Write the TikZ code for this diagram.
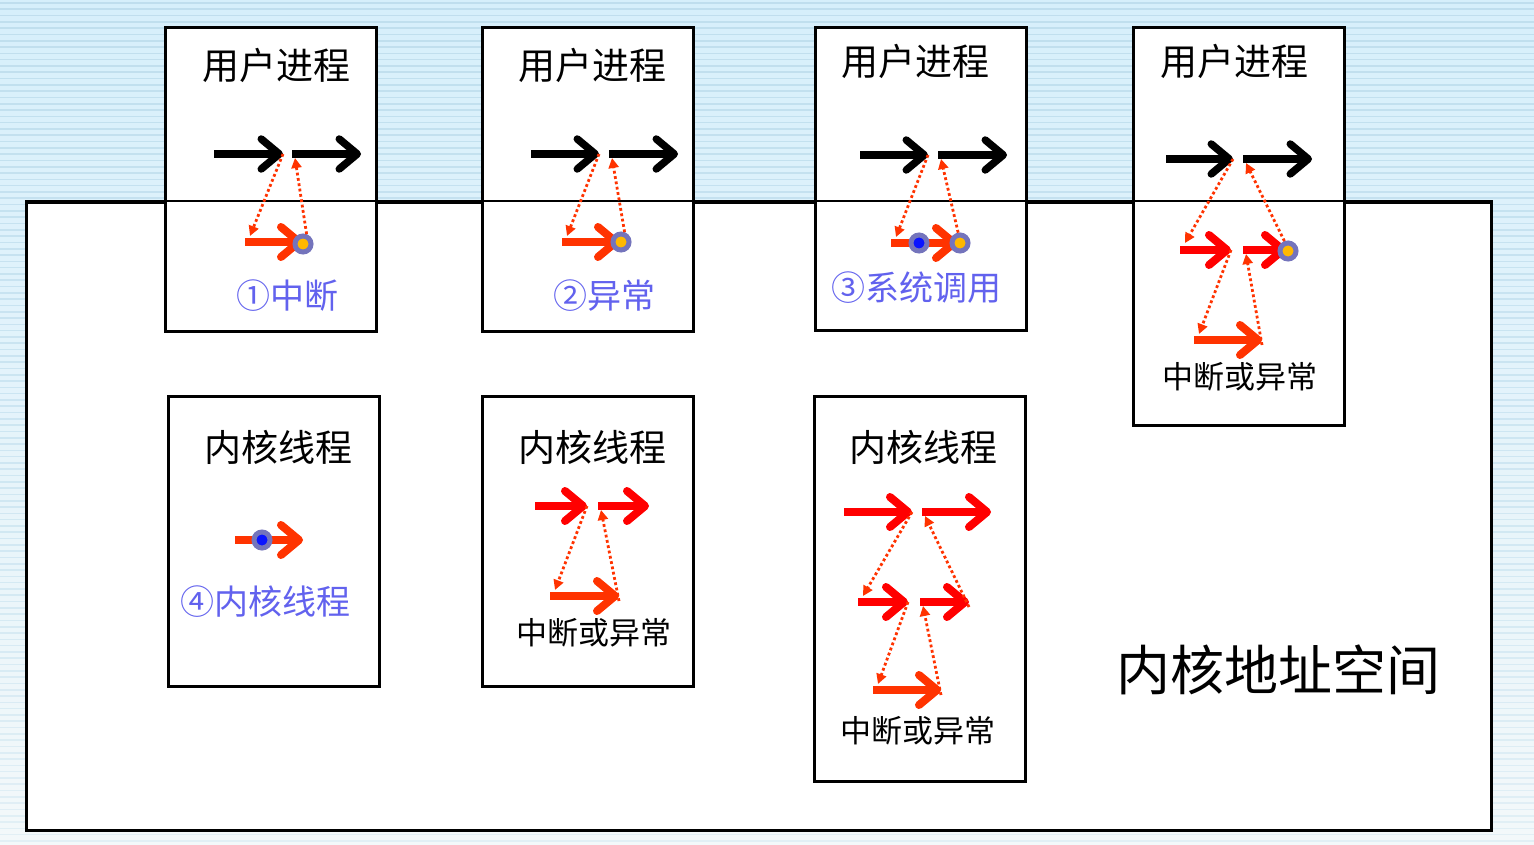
\documentclass[tikz,border=0pt]{standalone}
\usepackage{fontspec}
\newfontfamily\cjk{Noto Sans CJK SC}
\usepackage{tikz}
\usetikzlibrary{arrows.meta}
\definecolor{bgTop}{HTML}{D6EFFB}
\definecolor{bgBottom}{HTML}{F3F8FA}
\definecolor{bgStripe}{HTML}{BCDCEC}
\definecolor{flowRed}{HTML}{FF0000}
\definecolor{flowOrange}{HTML}{FF3300}
\definecolor{labelBlue}{HTML}{6262EE}
\definecolor{ringGrey}{HTML}{7474BC}
\definecolor{coreYellow}{HTML}{FFB800}
\definecolor{coreBlue}{HTML}{0A14FF}

% one flow arrow with named ends #2s and #2e
\newcommand{\flowarr}[4]{%
  \coordinate (#2s) at #3;
  \coordinate (#2e) at #4;
  \draw[#1] (#2s) -- (#2e);}

\begin{document}
\begin{tikzpicture}[
  x=1pt, y=-1pt,
  frame/.style={draw=black, line width=2.6pt, fill=white, inner sep=0pt},
  blackarr/.style={draw=black, line width=7.5pt, line cap=butt,
    -{Straight Barb[length=18pt,width=30pt,round]}},
  redarr/.style={blackarr, draw=flowRed, line width=8pt},
  orangearr/.style={blackarr, draw=flowOrange, line width=8pt},
  dotarr/.style={draw=flowOrange, line width=2.8pt,
    dash pattern=on 2.8pt off 2.6pt, -{Triangle[length=10pt,width=10pt]}},
  yellowring/.style={circle, draw=ringGrey, line width=5pt, fill=coreYellow,
    minimum size=16pt, inner sep=0pt},
  bluering/.style={yellowring, fill=coreBlue},
  boxtitle/.style={font=\cjk\fontsize{37}{40}\selectfont, inner sep=0pt},
  flownote/.style={font=\cjk\fontsize{31}{34}\selectfont, inner sep=0pt},
  bluenote/.style={font=\cjk\fontsize{34}{36}\selectfont, text=labelBlue, inner sep=0pt},
  spacetitle/.style={font=\cjk\fontsize{54}{58}\selectfont, inner sep=0pt}
]
\useasboundingbox (0,0) rectangle (1534,845);

% background
\shade[top color=bgTop, bottom color=bgBottom] (0,0) rectangle (1534,845);
\foreach \k in {0,...,133} {
  \pgfmathsetmacro\op{0.85-0.55*\k/133}
  \draw[bgStripe, line width=1.6pt, opacity=\op] (0,3+6.3*\k) -- (1534,3+6.3*\k);
}

% kernel address space
\node[frame, anchor=north west, minimum width=1465, minimum height=628] (space) at (25,201) {};
\node[spacetitle] (spacelbl) at (1278,670) {内核地址空间};

% user processes
\node[frame, anchor=north west, minimum width=211, minimum height=304] (user1) at (164,26) {};
\node[frame, anchor=north west, minimum width=211, minimum height=304] (user2) at (481,26) {};
\node[frame, anchor=north west, minimum width=211, minimum height=303] (user3) at (814,26) {};
\node[frame, anchor=north west, minimum width=211, minimum height=398] (user4) at (1132,26) {};
\draw[line width=2.6pt] (space.north west) -- (space.north east);

% kernel threads
\node[frame, anchor=north west, minimum width=211, minimum height=290] (kern1) at (167,395) {};
\node[frame, anchor=north west, minimum width=211, minimum height=290] (kern2) at (481,395) {};
\node[frame, anchor=north west, minimum width=211, minimum height=385] (kern3) at (813,395) {};

\node[boxtitle] (t1) at (276,65) {用户进程};
\node[boxtitle] (t2) at (592,65) {用户进程};
\node[boxtitle] (t3) at (915,61) {用户进程};
\node[boxtitle] (t4) at (1234,61) {用户进程};
\node[boxtitle] (t5) at (278,447) {内核线程};
\node[boxtitle] (t6) at (592,447) {内核线程};
\node[boxtitle] (t7) at (923,447) {内核线程};

% (1) interrupt
\flowarr{blackarr}{u1a}{(214,154)}{(283,154)}
\flowarr{blackarr}{u1b}{(292,154)}{(361,154)}
\flowarr{orangearr}{u1c}{(245,242)}{(303,242)}
\node[yellowring] (ring1) at (303,244) {};
\draw[dotarr] (u1ae) -- ([shift={(5,-6)}]u1cs);
\draw[dotarr] (ring1.70) -- ([shift={(3,4)}]u1bs);
\node[bluenote] (n1) at (287,296) {①中断};

% (2) exception
\flowarr{blackarr}{u2a}{(531,154)}{(599,154)}
\flowarr{blackarr}{u2b}{(609,154)}{(678,154)}
\flowarr{orangearr}{u2c}{(562,242)}{(620,242)}
\node[yellowring] (ring2) at (621,242) {};
\draw[dotarr] (u2ae) -- ([shift={(5,-6)}]u2cs);
\draw[dotarr] (ring2.70) -- ([shift={(3,4)}]u2bs);
\node[bluenote] (n2) at (604,296) {②异常};

% (3) system call
\flowarr{blackarr}{u3a}{(860,155)}{(928,155)}
\flowarr{blackarr}{u3b}{(938,155)}{(1007,155)}
\flowarr{orangearr}{u3c}{(891,243)}{(958,243)}
\node[bluering] (ring3a) at (919,243) {};
\node[yellowring] (ring3b) at (960,243) {};
\draw[dotarr] (u3ae) -- ([shift={(5,-6)}]u3cs);
\draw[dotarr] (ring3b.100) -- ([shift={(3,4)}]u3bs);
\node[bluenote] (n3) at (916,288) {③系统调用};

% nested interrupt in user process
\flowarr{blackarr}{u4a}{(1166,159)}{(1233,159)}
\flowarr{blackarr}{u4b}{(1243,159)}{(1312,159)}
\flowarr{redarr}{u4c}{(1180,250)}{(1231,250)}
\flowarr{redarr}{u4d}{(1243,250)}{(1287,250)}
\node[yellowring] (ring4) at (1288,251) {};
\flowarr{orangearr}{u4e}{(1194,340)}{(1262,340)}
\draw[dotarr] (u4ae) -- ([shift={(5,-7)}]u4cs);
\draw[dotarr] (ring4.110) -- ([shift={(3,4)}]u4bs);
\draw[dotarr] (u4ce) -- ([shift={(5,-6)}]u4es);
\draw[dotarr] ([yshift=-5]u4ee) -- ([shift={(3,4)}]u4ds);
\node[flownote] (n4) at (1240,377) {中断或异常};

% (4) kernel thread
\flowarr{orangearr}{k1a}{(235,540)}{(303,540)}
\node[bluering] (ring5) at (262,540) {};
\node[bluenote] (n5) at (265,602) {④内核线程};

% interrupt in kernel thread
\flowarr{redarr}{k2a}{(535,506)}{(587,506)}
\flowarr{redarr}{k2b}{(598,506)}{(649,506)}
\flowarr{orangearr}{k2c}{(550,596)}{(619,596)}
\draw[dotarr] (k2ae) -- ([shift={(5,-6)}]k2cs);
\draw[dotarr] ([yshift=-5]k2ce) -- ([shift={(3,4)}]k2bs);
\node[flownote] (n6) at (594,633) {中断或异常};

% nested interrupt in kernel thread
\flowarr{redarr}{k3a}{(844,512)}{(912,512)}
\flowarr{redarr}{k3b}{(922,512)}{(991,512)}
\flowarr{redarr}{k3c}{(858,602)}{(908,602)}
\flowarr{redarr}{k3d}{(920,602)}{(969,602)}
\flowarr{orangearr}{k3e}{(873,690)}{(941,690)}
\draw[dotarr] (k3ae) -- ([shift={(5,-6)}]k3cs);
\draw[dotarr] ([yshift=-5]k3de) -- ([shift={(3,4)}]k3bs);
\draw[dotarr] (k3ce) -- ([shift={(5,-6)}]k3es);
\draw[dotarr] ([yshift=-5]k3ee) -- ([shift={(3,4)}]k3ds);
\node[flownote] (n7) at (918,731) {中断或异常};
\end{tikzpicture}
\end{document}
